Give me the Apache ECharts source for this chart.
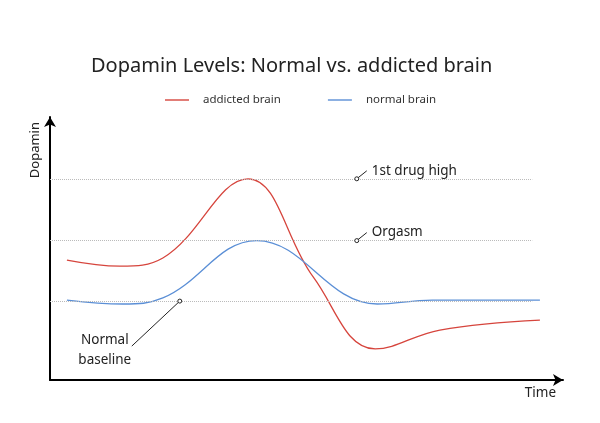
<!DOCTYPE html>
<html>
<head>
<meta charset="utf-8">
<script src="https://cdn.jsdelivr.net/npm/echarts@6/dist/echarts.min.js"></script>
<style>
html, body { margin: 0; padding: 0; background: #fff; }
#main { width: 600px; height: 423px; }
</style>
</head>
<body>
<div id="main"></div>
<script>
var dom = document.getElementById("main");
var myChart = echarts.init(dom);

// time (0-100) / dopamin level (0-100)
var addictedTime = [3.3, 13.6, 22, 38.6, 51.3, 63.4, 76, 95.5];
var addictedLevel = [45.6, 43.3, 46.4, 76.5, 39.2, 11.8, 19, 22.8];
var normalTime = [3.3, 14.2, 22, 40.3, 63.8, 74.5, 95.5];
var normalLevel = [30.4, 28.9, 31.2, 53, 28.9, 30.4, 30.4];

var levelLines = [30, 53, 76.5];

var notes = [
    {name: '1st drug high', coord: [59.8, 76.5]},
    {name: 'Orgasm', coord: [59.8, 53]},
    {name: 'Normal\nbaseline', coord: [25.3, 30]}
];

var font = 'Noto Sans';

function pairs(xs, ys) {
    return xs.map(function (x, i) { return [x, ys[i]]; });
}

option = {
    textStyle: {fontFamily: font},
    title: {
        text: 'Dopamin Levels: Normal vs. addicted brain',
        left: 86,
        top: 51,
        textStyle: {fontFamily: font, fontSize: 20, fontWeight: 'normal', color: '#222'}
    },
    legend: {
        top: 89,
        left: 160,
        itemGap: 47,
        itemWidth: 24,
        itemHeight: 1.4,
        icon: 'rect',
        textStyle: {fontFamily: font, fontSize: 11.5, color: '#333', padding: [0, 0, 0, 9]},
        data: ['addicted brain', 'normal brain']
    },
    grid: {left: 50, right: 37, top: 117, bottom: 43},
    xAxis: {
        type: 'value',
        min: 0,
        max: 100,
        name: 'Time',
        nameLocation: 'end',
        nameGap: -7,
        nameTextStyle: {fontFamily: font, fontSize: 13.5, color: '#222', align: 'right', verticalAlign: 'top', padding: [6, 0, 0, 0]},
        axisLine: {symbol: ['none', 'arrow'], symbolSize: [9, 10], lineStyle: {color: '#000', width: 2}},
        axisTick: {show: false},
        axisLabel: {show: false},
        splitLine: {show: false}
    },
    yAxis: {
        type: 'value',
        min: 0,
        max: 100,
        name: 'Dopamin',
        nameLocation: 'end',
        nameRotate: 90,
        nameGap: -5,
        nameTextStyle: {fontFamily: font, fontSize: 13, color: '#222', align: 'right', verticalAlign: 'bottom', padding: [0, 0, 8, 0]},
        axisLine: {show: true, symbol: ['none', 'arrow'], symbolSize: [9, 10], lineStyle: {color: '#000', width: 2}},
        axisTick: {show: false},
        axisLabel: {show: false},
        splitLine: {show: false}
    },
    series: [{
        name: 'addicted brain',
        type: 'line',
        smooth: 0.4,
        symbol: 'none',
        data: pairs(addictedTime, addictedLevel),
        lineStyle: {color: '#d6453d', width: 1.3},
        itemStyle: {color: '#d6453d'},
        markLine: {
            silent: true,
            symbol: 'none',
            label: {show: false},
            lineStyle: {color: '#bbb', type: 'dotted', width: 1},
            data: levelLines.map(function (v) {
                return [{coord: [0, v]}, {coord: [94, v]}];
            })
        }
    }, {
        name: 'normal brain',
        type: 'line',
        smooth: 0.4,
        symbol: 'none',
        data: pairs(normalTime, normalLevel),
        lineStyle: {color: '#5b8fd6', width: 1.3},
        itemStyle: {color: '#5b8fd6'}
    }]
};

myChart.setOption(option);

// leader lines + labels for the notes, placed through the chart's scales
var graphics = [];
notes.forEach(function (n, i) {
    var p = myChart.convertToPixel({gridIndex: 0}, n.coord);
    var left = i === 2;
    var end = left ? [p[0] - 48, p[1] + 45] : [p[0] + 10, p[1] - 8];
    graphics.push({
        type: 'line',
        shape: {x1: p[0], y1: p[1], x2: end[0], y2: end[1]},
        style: {stroke: '#222', lineWidth: 1},
        z: 10
    });
    graphics.push({
        type: 'circle',
        shape: {cx: p[0], cy: p[1], r: 2},
        style: {fill: '#fff', stroke: '#222', lineWidth: 1},
        z: 11
    });
    graphics.push({
        type: 'text',
        x: left ? end[0] - 27 : end[0] + 5,
        y: left ? end[1] - 16 : end[1],
        style: {
            text: n.name,
            fill: '#222',
            font: '13.5px "' + font + '"',
            textAlign: left ? 'center' : 'left',
            textVerticalAlign: left ? 'top' : 'middle',
            lineHeight: 20
        },
        z: 11
    });
});
myChart.setOption({graphic: graphics});
</script>
</body>
</html>
